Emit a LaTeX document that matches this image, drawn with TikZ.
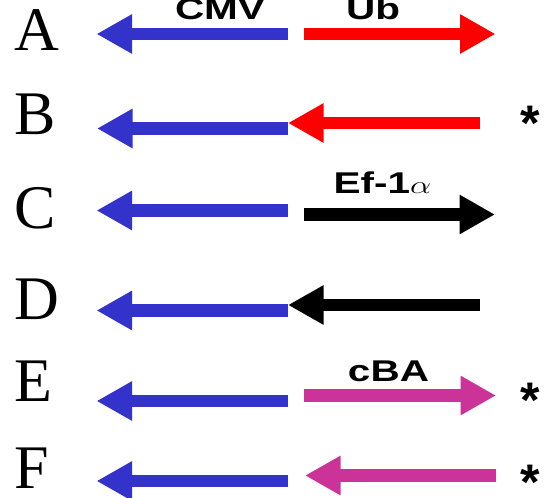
\documentclass[tikz,border=0pt]{standalone}
\usepackage{fontspec}
\setmainfont{Liberation Serif}
\newfontfamily\lblfont{Liberation Sans}
\usetikzlibrary{arrows.meta}
\definecolor{cmvblue}{RGB}{51,51,204}
\definecolor{ubred}{RGB}{255,0,0}
\definecolor{cbamag}{RGB}{204,51,153}
\tikzset{
  gene/.style={line width=12.5pt, line cap=butt, -{Triangle[length=35.5pt,width=37pt]}},
  rowlbl/.style={anchor=base west, inner sep=0pt, font=\fontsize{62}{62}\selectfont},
  promlbl/.style={anchor=base, inner sep=0pt, font=\lblfont\bfseries\fontsize{30}{30}\selectfont},
  star/.style={inner sep=0pt, font=\lblfont\bfseries\fontsize{50}{50}\selectfont}
}
\newcommand{\stretchlbl}[1]{\scalebox{1.35}[1]{#1}}
\begin{document}
\begin{tikzpicture}[x=1pt,y=-1pt]
\useasboundingbox (0,0) rectangle (545,497);
% row letters
\node[rowlbl] (LA) at (14,51) {A};
\node[rowlbl] (LB) at (14,135) {B};
\node[rowlbl] (LC) at (14,228) {C};
\node[rowlbl] (LD) at (14,319) {D};
\node[rowlbl] (LE) at (14,401) {E};
\node[rowlbl] (LF) at (14,488) {F};
% coordinates
\coordinate (a1) at (288,34);   \coordinate (a2) at (96.5,34);
\coordinate (a3) at (304,34);   \coordinate (a4) at (495.5,34);
\coordinate (b1) at (288,128.5);\coordinate (b2) at (97,128.5);
\coordinate (b3) at (480,123);  \coordinate (b4) at (288,123);
\coordinate (c1) at (288,210.5);\coordinate (c2) at (96.5,210.5);
\coordinate (c3) at (304,214.5);\coordinate (c4) at (495,214.5);
\coordinate (d1) at (288,310.5);\coordinate (d2) at (96.5,310.5);
\coordinate (d3) at (480,305);  \coordinate (d4) at (288,305);
\coordinate (e1) at (288,401);  \coordinate (e2) at (96.5,401);
\coordinate (e3) at (304,395.5);\coordinate (e4) at (496,395.5);
\coordinate (f1) at (288,481);  \coordinate (f2) at (96.5,481);
\coordinate (f3) at (496,475.5);\coordinate (f4) at (305,475.5);
% arrows
\draw[gene, cmvblue] (a1) -- (a2);
\draw[gene, ubred] (a3) -- (a4);
\draw[gene, cmvblue] (b1) -- (b2);
\draw[gene, ubred] (b3) -- (b4);
\draw[gene, cmvblue] (c1) -- (c2);
\draw[gene, black] (c3) -- (c4);
\draw[gene, cmvblue] (d1) -- (d2);
\draw[gene, black] (d3) -- (d4);
\draw[gene, cmvblue] (e1) -- (e2);
\draw[gene, cbamag] (e3) -- (e4);
\draw[gene, cmvblue] (f1) -- (f2);
\draw[gene, cbamag] (f3) -- (f4);
% promoter labels
\node[promlbl] (tCMV) at (220,19.5) {\stretchlbl{CMV}};
\node[promlbl] (tUb) at (373,19.5) {\stretchlbl{Ub}};
\node[promlbl] (tEf) at (382.5,193) {\stretchlbl{Ef-1$\alpha$}};
\node[promlbl] (tcBA) at (388.5,381) {\stretchlbl{cBA}};
% asterisks
\node[star] (sB) at (530,123.4) {*};
\node[star] (sE) at (530,400.4) {*};
\node[star] (sF) at (530,482) {*};
\end{tikzpicture}
\end{document}
